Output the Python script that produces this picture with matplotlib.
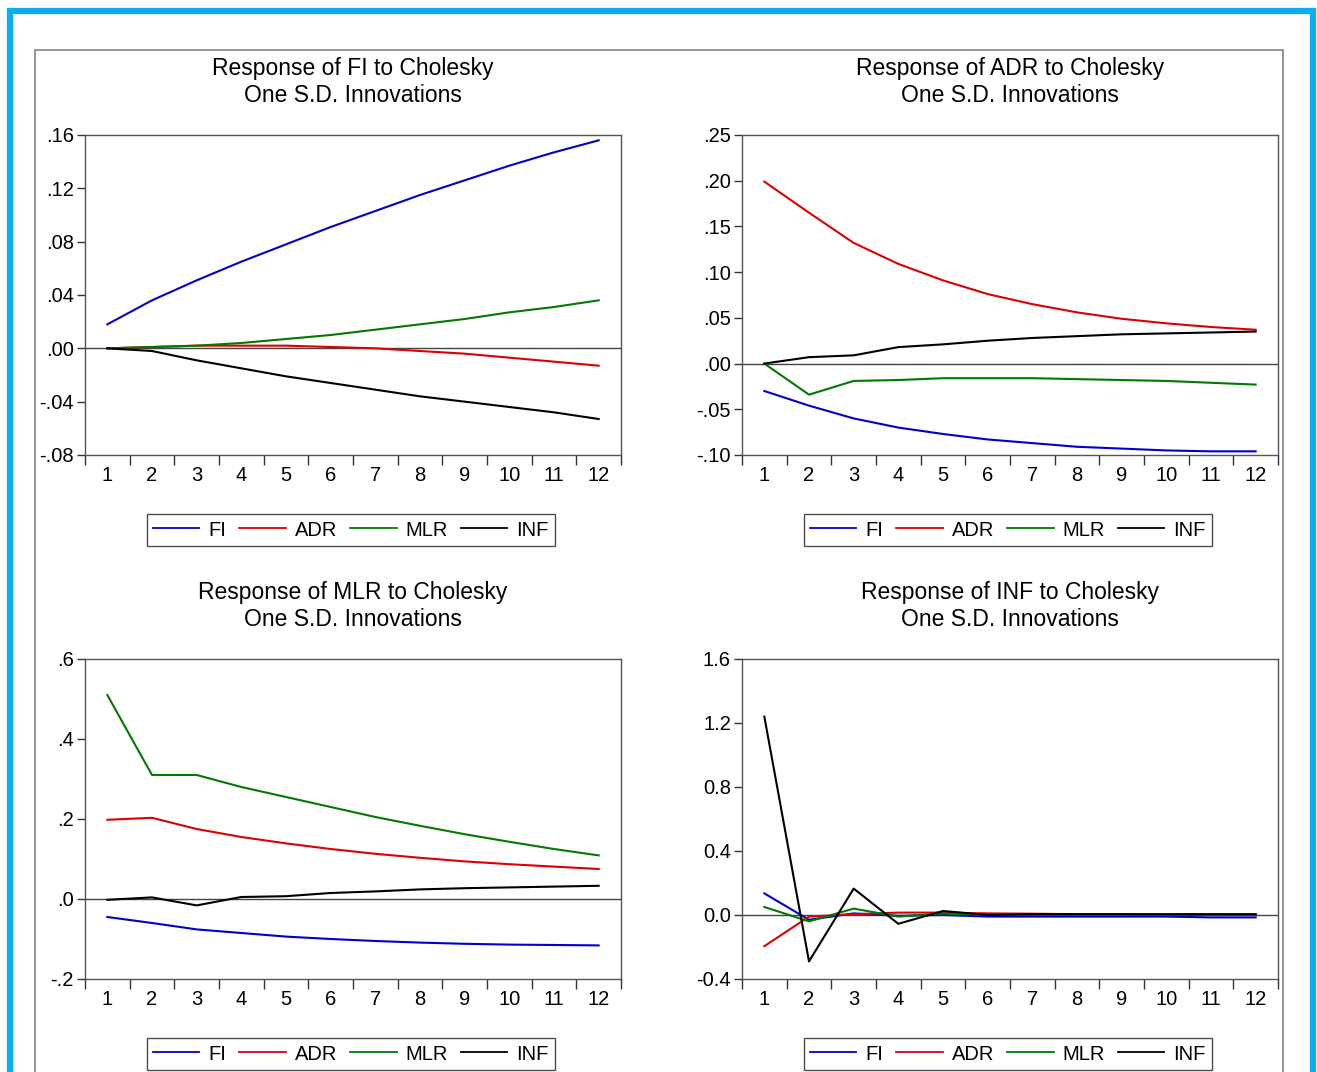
import matplotlib
matplotlib.use("Agg")
import matplotlib.pyplot as plt
from matplotlib.patches import Rectangle

plt.rcParams['font.family'] = ['Liberation Sans', 'DejaVu Sans']

periods = list(range(1, 13))
names = ["FI", "ADR", "MLR", "INF"]
colors = {"FI": "#0000CC", "ADR": "#DD0000", "MLR": "#007A00", "INF": "#000000"}

# Response of FI
fi_fi = [0.018, 0.036, 0.051, 0.065, 0.078, 0.091, 0.103, 0.115, 0.126, 0.137, 0.147, 0.156]
fi_adr = [0.000, 0.001, 0.002, 0.002, 0.002, 0.001, 0.000, -0.002, -0.004, -0.007, -0.010, -0.013]
fi_mlr = [0.000, 0.001, 0.002, 0.004, 0.007, 0.010, 0.014, 0.018, 0.022, 0.027, 0.031, 0.036]
fi_inf = [0.000, -0.002, -0.009, -0.015, -0.021, -0.026, -0.031, -0.036, -0.040, -0.044, -0.048, -0.053]

# Response of ADR
adr_fi = [-0.030, -0.046, -0.060, -0.070, -0.077, -0.083, -0.087, -0.091, -0.093, -0.095, -0.096, -0.096]
adr_adr = [0.199, 0.165, 0.132, 0.109, 0.091, 0.076, 0.065, 0.056, 0.049, 0.044, 0.040, 0.037]
adr_mlr = [0.000, -0.034, -0.019, -0.018, -0.016, -0.016, -0.016, -0.017, -0.018, -0.019, -0.021, -0.023]
adr_inf = [0.000, 0.007, 0.009, 0.018, 0.021, 0.025, 0.028, 0.030, 0.032, 0.033, 0.034, 0.035]

# Response of MLR
mlr_fi = [-0.045, -0.060, -0.076, -0.085, -0.094, -0.100, -0.105, -0.109, -0.112, -0.114, -0.115, -0.116]
mlr_adr = [0.198, 0.203, 0.175, 0.155, 0.139, 0.125, 0.113, 0.103, 0.094, 0.087, 0.081, 0.075]
mlr_mlr = [0.510, 0.310, 0.310, 0.280, 0.255, 0.230, 0.205, 0.183, 0.162, 0.143, 0.125, 0.109]
mlr_inf = [-0.002, 0.004, -0.016, 0.005, 0.007, 0.015, 0.019, 0.024, 0.027, 0.029, 0.031, 0.033]

# Response of INF
inf_fi = [0.135, -0.030, 0.010, -0.005, 0.000, -0.010, -0.010, -0.010, -0.010, -0.010, -0.015, -0.015]
inf_adr = [-0.195, -0.010, 0.005, 0.015, 0.015, 0.010, 0.008, 0.005, 0.005, 0.003, 0.003, 0.002]
inf_mlr = [0.050, -0.040, 0.040, -0.010, 0.010, 0.000, 0.000, 0.000, 0.000, 0.000, 0.000, 0.000]
inf_inf = [1.240, -0.290, 0.165, -0.055, 0.025, 0.000, 0.005, 0.005, 0.005, 0.005, 0.005, 0.005]

panels = [
    ("FI", [fi_fi, fi_adr, fi_mlr, fi_inf],
     [-0.08, -0.04, 0.0, 0.04, 0.08, 0.12, 0.16], ["-.08", "-.04", ".00", ".04", ".08", ".12", ".16"]),
    ("ADR", [adr_fi, adr_adr, adr_mlr, adr_inf],
     [-0.10, -0.05, 0.0, 0.05, 0.10, 0.15, 0.20, 0.25], ["-.10", "-.05", ".00", ".05", ".10", ".15", ".20", ".25"]),
    ("MLR", [mlr_fi, mlr_adr, mlr_mlr, mlr_inf],
     [-0.2, 0.0, 0.2, 0.4, 0.6], ["-.2", ".0", ".2", ".4", ".6"]),
    ("INF", [inf_fi, inf_adr, inf_mlr, inf_inf],
     [-0.4, 0.0, 0.4, 0.8, 1.2, 1.6], ["-0.4", "0.0", "0.4", "0.8", "1.2", "1.6"]),
]

W, H = 1317, 1072
fig = plt.figure(figsize=(W / 100, H / 100), dpi=100)

# outer frames
fig.patches.append(Rectangle((10 / W, -0.05), 1303 / W, (H - 11) / H + 0.05,
                             transform=fig.transFigure, fill=False,
                             edgecolor="#0AAEEF", linewidth=4.5))
fig.patches.append(Rectangle((35 / W, -0.05), 1248 / W, (H - 50) / H + 0.05,
                             transform=fig.transFigure, fill=False,
                             edgecolor="#8C8C8C", linewidth=1.3))

# axes boxes in pixels: left, top
boxes = [(85, 135), (742, 135), (85, 659), (742, 659)]
aw, ah = 536, 320

for (name, series, yt, ylab), (lx, ty) in zip(panels, boxes):
    ax = fig.add_axes([lx / W, (H - ty - ah) / H, aw / W, ah / H])
    for s, n in zip(series, names):
        ax.plot(periods, s, color=colors[n], lw=1.5, label=n)
    ax.axhline(0, color="#444444", lw=1.0, zorder=1)
    ax.set_xlim(0.5, 12.5)
    ax.set_ylim(yt[0], yt[-1])
    ax.set_yticks(yt)
    ax.set_yticklabels(ylab)
    ax.set_xticks(periods)
    ax.set_xticks([p + 0.5 for p in range(0, 13)], minor=True)
    ax.tick_params(axis="x", which="major", length=0, pad=8, labelsize=14.5)
    ax.tick_params(axis="x", which="minor", length=7, width=1, direction="out", color="#333333")
    ax.tick_params(axis="y", length=6, width=1, direction="out", color="#333333",
                   labelsize=14.5, pad=2)
    for sp in ax.spines.values():
        sp.set_color("#555555")
        sp.set_linewidth(1.0)
    ax.set_title(f"Response of {name} to Cholesky\nOne S.D. Innovations",
                 fontsize=16.5, linespacing=1.2, pad=24)
    cx = (lx + aw / 2 - 2) / W
    cy = (H - (ty + ah + 75)) / H
    leg = ax.legend(loc="center", bbox_to_anchor=(cx, cy), bbox_transform=fig.transFigure,
                    ncol=4, fontsize=14.5, handlelength=2.3, handletextpad=0.45,
                    columnspacing=0.65, frameon=True, fancybox=False,
                    borderpad=0.3, borderaxespad=0)
    leg.get_frame().set_edgecolor("#222222")
    leg.get_frame().set_linewidth(1.0)
    for line in leg.get_lines():
        line.set_linewidth(1.3)

fig.savefig("out.png", dpi=100)
